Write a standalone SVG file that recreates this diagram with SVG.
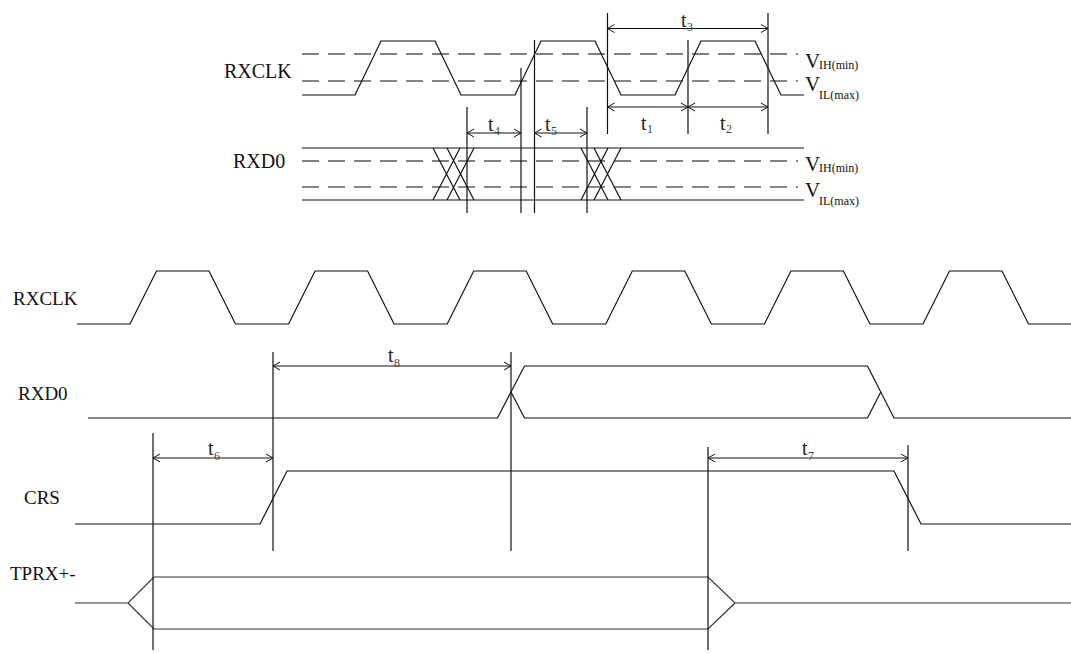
<svg xmlns="http://www.w3.org/2000/svg" width="1071" height="653" viewBox="0 0 1071 653">
<style>
.sig{fill:none;stroke:#111;stroke-width:1.2}
.bus{fill:none;stroke:#333;stroke-width:1.2}
.dh{fill:none;stroke:#555;stroke-width:1.3;stroke-dasharray:17 9}
.dl{fill:none;stroke:#111;stroke-width:1.2;stroke-dasharray:17 9}
.vl{fill:none;stroke:#111;stroke-width:1.2}
.ar{fill:none;stroke:#111;stroke-width:1;marker-start:url(#ah);marker-end:url(#ah)}
.lbl{font-family:"Liberation Serif","Times New Roman",serif;font-size:20px;fill:#111}
.lbl2{font-family:"Liberation Serif","Times New Roman",serif;font-size:19px;fill:#111}
.v{font-family:"Liberation Serif","Times New Roman",serif;font-size:21px;fill:#111}
.vs{font-family:"Liberation Serif","Times New Roman",serif;font-size:12px;fill:#111}
.t{font-family:"Liberation Serif","Times New Roman",serif;font-size:20px;fill:#222}
.ts{font-family:"Liberation Serif","Times New Roman",serif;font-size:12px;fill:#444}
</style>
<defs>
<marker id="ah" markerUnits="userSpaceOnUse" orient="auto-start-reverse" overflow="visible" markerWidth="10" markerHeight="10" refX="0" refY="0">
<path d="M-7,-4 L0,0 L-7,4" fill="none" stroke="#111" stroke-width="1"/>
</marker>
</defs>
<rect width="1071" height="653" fill="#fff"/>

<g id="top-rxclk">
<text class="lbl" x="224" y="78">RXCLK</text>
<path class="dh" d="M302,54 H798"/>
<path class="dl" d="M302,81 H798"/>
<path class="sig" d="M302,95 H355 L381,41 H435 L461,95 H515 L541,41 H595 L621,95 H675 L701,41 H755 L781,95 H804"/>
</g>

<g id="top-rxd0">
<text class="lbl" x="233" y="168">RXD0</text>
<path class="sig" d="M302,148 H804 M302,200 H804"/>
<path class="dh" d="M302,161 H798"/>
<path class="dl" d="M302,187 H798"/>
<path class="sig" d="M433,148 L460,200 M433,200 L460,148 M447,148 L474,200 M447,200 L474,148"/>
<path class="sig" d="M581,148 L608,200 M581,200 L608,148 M594,148 L621,200 M594,200 L621,148"/>
</g>

<g id="vlevels">
<text class="v" x="805" y="68">V</text><text class="vs" x="819" y="69">IH(min)</text>
<text class="v" x="805" y="91">V</text><text class="vs" x="819" y="99">IL(max)</text>
<text class="v" x="805" y="171">V</text><text class="vs" x="819" y="172">IH(min)</text>
<text class="v" x="805" y="197">V</text><text class="vs" x="819" y="205">IL(max)</text>
</g>

<g id="bot-rxclk">
<text class="lbl2" x="13" y="305">RXCLK</text>
<path class="sig" d="M77,324 H130 L156.5,271 H209 L235.5,324 H288.6 L315.1,271 H367.6 L394.1,324 H447.2 L473.7,271 H526.2 L552.7,324 H605.8 L632.3,271 H684.8 L711.3,324 H764.4 L790.9,271 H843.4 L869.9,324 H923 L949.5,271 H1002 L1028.5,324 H1071"/>
</g>

<g id="bot-rxd0">
<text class="lbl2" x="18" y="400">RXD0</text>
<path class="sig" d="M88,418 H497.5 L524.5,366 H867.5 L894,418 H1071"/>
<path class="sig" d="M511,392 L524.5,418 H867.5 L880.75,392"/>
</g>

<g id="crs">
<text class="lbl2" x="24" y="504">CRS</text>
<path class="sig" d="M75,524 H260 L287,471 H894 L921,524 H1071"/>
</g>

<g id="tprx">
<text class="lbl2" x="10" y="580">TPRX+-</text>
<path class="bus" d="M75,603 H128 L154,577 H708 L735,603 H1071 M128,603 L154,629 H708 L735,603"/>
</g>

<g id="connectors">
<path class="vl" d="M607.5,13 V134 M688,40 V134 M768,13 V134 M467,107 V213 M521,68 V213 M534.5,40 V213 M587,107 V213"/>
<path class="ar" d="M607.5,28.5 H768"/>
<path class="ar" d="M607.5,107 H688"/>
<path class="ar" d="M688,107 H768"/>
<path class="ar" d="M467,133 H521"/>
<path class="ar" d="M534.5,133 H587"/>
<path class="vl" d="M273,352 V551 M511,352 V551 M153,433 V650 M708,447 V650 M908,445 V551"/>
<path class="ar" d="M273,366 H511"/>
<path class="ar" d="M153,458 H273"/>
<path class="ar" d="M708,458 H908"/>
</g>

<g id="timing-labels">
<text class="t" x="681" y="27">t</text><text class="ts" x="687" y="31">3</text>
<text class="t" x="641" y="130">t</text><text class="ts" x="647" y="133">1</text>
<text class="t" x="720" y="130">t</text><text class="ts" x="726" y="133">2</text>
<text class="t" x="488" y="131">t</text><text class="ts" x="494" y="135">4</text>
<text class="t" x="545" y="131">t</text><text class="ts" x="551" y="135">5</text>
<text class="t" x="388" y="362">t</text><text class="ts" x="394" y="367">8</text>
<text class="t" x="208" y="455">t</text><text class="ts" x="214" y="460">6</text>
<text class="t" x="802" y="455">t</text><text class="ts" x="808" y="460">7</text>
</g>
</svg>
